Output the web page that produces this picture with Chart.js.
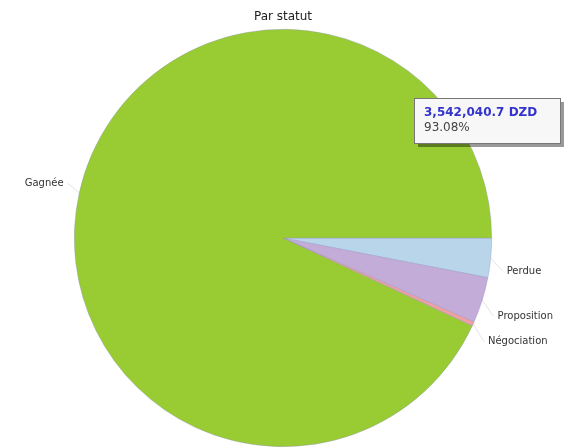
<!DOCTYPE html>
<html>
<head>
<meta charset="utf-8">
<script src="https://cdn.jsdelivr.net/npm/chart.js@4/dist/chart.umd.min.js"></script>
<style>
  html, body { margin: 0; padding: 0; background: #fff; }
  #wrap { width: 575px; height: 447px; }
</style>
</head>
<body>
<div id="wrap"><canvas id="statut-chart" width="575" height="447"></canvas></div>
<script>
// données (DZD)
const labels = ["Perdue", "Proposition", "Négociation", "Gagnée"];
const montants = [116000, 135000, 12332, 3542040.7];
const couleurs = ["#b9d5ea", "#c3acd8", "#f0a0a0", "#99cc33"];
const titre = "Par statut";
const bulleIndex = 3;

const total = montants.reduce((a, b) => a + b, 0);

// étiquettes extérieures + titre + bulle
const annotations = {
    id: 'annotations',
    afterDraw(chart) {
        const ctx = chart.ctx;
        const arcs = chart.getDatasetMeta(0).data;
        ctx.save();

        // titre
        ctx.font = '12px "DejaVu Sans", Verdana, sans-serif';
        ctx.fillStyle = '#222';
        ctx.textAlign = 'center';
        ctx.textBaseline = 'middle';
        const a0 = arcs[0];
        ctx.fillText(titre, a0.x, 17);

        // étiquettes
        ctx.font = '10px "DejaVu Sans", Verdana, sans-serif';
        let lastY = -Infinity;
        arcs.forEach((arc, i) => {
            const mid = (arc.startAngle + arc.endAngle) / 2;
            const R = arc.outerRadius + 14;
            const right = Math.cos(mid) >= 0;
            let x = arc.x + Math.cos(mid) * R;
            let y = arc.y + Math.sin(mid) * R + (right ? 12 : -7);
            if (right) {
                if (y < lastY + 22) y = lastY + 22;
                lastY = y;
            }
            // trait de rappel
            ctx.strokeStyle = 'rgba(170,170,170,0.45)';
            ctx.lineWidth = 0.7;
            ctx.beginPath();
            ctx.moveTo(arc.x + Math.cos(mid) * arc.outerRadius, arc.y + Math.sin(mid) * arc.outerRadius);
            ctx.lineTo(x + (right ? -2 : 2), y);
            ctx.stroke();
            ctx.fillStyle = '#333';
            ctx.textAlign = right ? 'left' : 'right';
            ctx.fillText(labels[i], x + (right ? 2 : -2), y);
        });

        // bulle d'info
        const bx = a0.x + 131, by = a0.y - 140, bw = 146, bh = 45;
        ctx.fillStyle = 'rgba(0,0,0,0.4)';
        ctx.fillRect(bx + 4, by + 4, bw, bh);
        ctx.fillStyle = '#f7f7f7';
        ctx.fillRect(bx, by, bw, bh);
        ctx.strokeStyle = '#777';
        ctx.lineWidth = 1;
        ctx.strokeRect(bx + 0.5, by + 0.5, bw, bh);
        const v = montants[bulleIndex];
        const txt = v.toLocaleString('en-US', { minimumFractionDigits: 1, maximumFractionDigits: 1 }) + ' DZD';
        ctx.textAlign = 'left';
        ctx.font = 'bold 12px "DejaVu Sans", Verdana, sans-serif';
        ctx.fillStyle = '#3434cc';
        ctx.fillText(txt, bx + 10, by + 15);
        ctx.font = '12px "DejaVu Sans", Verdana, sans-serif';
        ctx.fillStyle = '#444';
        ctx.fillText((v / total * 100).toFixed(2) + '%', bx + 10, by + 30);
        ctx.restore();
    }
};

new Chart(document.getElementById('statut-chart').getContext('2d'), {
    type: 'pie',
    data: {
        labels: labels,
        datasets: [{
            data: montants,
            backgroundColor: couleurs,
            borderColor: 'rgba(140,140,190,0.6)',
            borderWidth: 0.6
        }]
    },
    options: {
        responsive: false,
        animation: false,
        rotation: 90,
        layout: { padding: { top: 29, bottom: 0, left: 74, right: 83 } },
        plugins: {
            legend: { display: false },
            tooltip: { enabled: false },
            title: { display: false }
        }
    },
    plugins: [annotations]
});
</script>
</body>
</html>
